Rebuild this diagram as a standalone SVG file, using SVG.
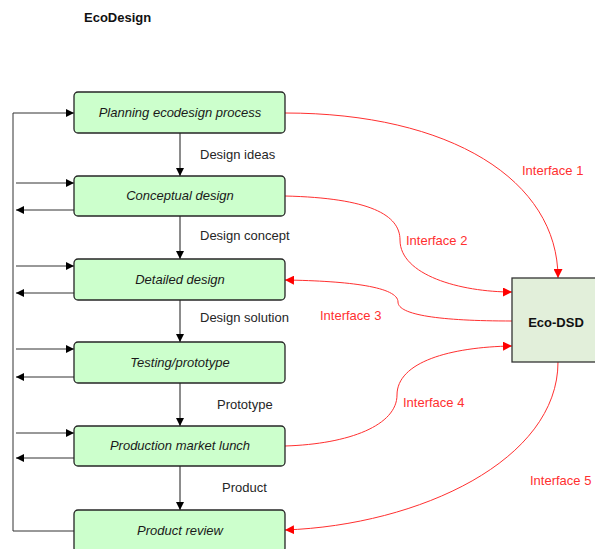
<svg xmlns="http://www.w3.org/2000/svg" width="595" height="549" viewBox="0 0 595 549">
  <style>
    .step { fill: #ccffcc; stroke: #262626; stroke-width: 1.3; }
    .steptxt { font-family: "Liberation Sans", Arial, sans-serif; font-style: italic; font-size: 13px; fill: #1a1a1a; text-anchor: middle; }
    .lbl { font-family: "Liberation Sans", Arial, sans-serif; font-size: 13px; fill: #262626; }
    .red { font-family: "Liberation Sans", Arial, sans-serif; font-size: 13px; fill: #ff3030; }
    .flow { fill: none; stroke: #1a1a1a; stroke-width: 1; }
    .loop { fill: none; stroke: #333333; stroke-width: 1; }
    .iface { fill: none; stroke: #ff3030; stroke-width: 1; }
  </style>
  <defs>
    <marker id="ah" viewBox="0 0 10 10" refX="10" refY="5" markerWidth="8" markerHeight="8" markerUnits="userSpaceOnUse" orient="auto">
      <path d="M0,0 L10,5 L0,10 Z" fill="#000"/>
    </marker>
    <marker id="ahr" viewBox="0 0 10 10" refX="10" refY="5" markerWidth="9" markerHeight="9" markerUnits="userSpaceOnUse" orient="auto">
      <path d="M0,0 L10,5 L0,10 Z" fill="#ff0000"/>
    </marker>
  </defs>

  <text x="84" y="22" font-family="'Liberation Sans', Arial, sans-serif" font-size="13" font-weight="bold" fill="#111">EcoDesign</text>

  <g id="connectors">
    <!-- feedback bus on the left -->
    <path class="loop" d="M74,531 H13 V113 H74" marker-end="url(#ah)"/>
    <line class="loop" x1="16" y1="183" x2="74" y2="183" marker-end="url(#ah)"/>
    <line class="loop" x1="74" y1="210" x2="16" y2="210" marker-end="url(#ah)"/>
    <line class="loop" x1="16" y1="266" x2="74" y2="266" marker-end="url(#ah)"/>
    <line class="loop" x1="74" y1="293" x2="16" y2="293" marker-end="url(#ah)"/>
    <line class="loop" x1="16" y1="349" x2="74" y2="349" marker-end="url(#ah)"/>
    <line class="loop" x1="74" y1="377" x2="16" y2="377" marker-end="url(#ah)"/>
    <line class="loop" x1="16" y1="433" x2="74" y2="433" marker-end="url(#ah)"/>
    <line class="loop" x1="74" y1="458" x2="16" y2="458" marker-end="url(#ah)"/>

    <!-- main flow -->
    <line class="flow" x1="180" y1="133" x2="180" y2="176" marker-end="url(#ah)"/>
    <line class="flow" x1="180" y1="216" x2="180" y2="259" marker-end="url(#ah)"/>
    <line class="flow" x1="180" y1="300" x2="180" y2="342" marker-end="url(#ah)"/>
    <line class="flow" x1="180" y1="383" x2="180" y2="426" marker-end="url(#ah)"/>
    <line class="flow" x1="180" y1="466" x2="180" y2="510" marker-end="url(#ah)"/>
    <text class="lbl" x="200" y="159">Design ideas</text>
    <text class="lbl" x="200" y="240">Design concept</text>
    <text class="lbl" x="200" y="322">Design solution</text>
    <text class="lbl" x="217" y="409">Prototype</text>
    <text class="lbl" x="222" y="492">Product</text>

    <!-- interfaces with Eco-DSD -->
    <path class="iface" d="M285,113 C450,113 558,180 558,278" marker-end="url(#ahr)"/>
    <path class="iface" d="M285,196 C370,198 400,215 400,240 C400,275 460,292 512,292" marker-end="url(#ahr)"/>
    <path class="iface" d="M512,321 C440,321 398,315 398,302 C398,287 350,281 285,280" marker-end="url(#ahr)"/>
    <path class="iface" d="M285,446 C350,444 397,425 397,395 C397,362 450,347 512,346" marker-end="url(#ahr)"/>
    <path class="iface" d="M558,362 C558,460 420,525 285,530" marker-end="url(#ahr)"/>
    <text class="red" x="522" y="175">Interface 1</text>
    <text class="red" x="406" y="245">Interface 2</text>
    <text class="red" x="320" y="320">Interface 3</text>
    <text class="red" x="403" y="407">Interface 4</text>
    <text class="red" x="530" y="485">Interface 5</text>
  </g>

  <g id="planning">
    <rect class="step" x="74" y="92" width="211" height="41" rx="4"/>
    <text class="steptxt" x="180" y="117">Planning ecodesign process</text>
  </g>
  <g id="conceptual">
    <rect class="step" x="74" y="176" width="211" height="40" rx="4"/>
    <text class="steptxt" x="180" y="200">Conceptual design</text>
  </g>
  <g id="detailed">
    <rect class="step" x="74" y="259" width="211" height="41" rx="4"/>
    <text class="steptxt" x="180" y="284">Detailed design</text>
  </g>
  <g id="testing">
    <rect class="step" x="74" y="342" width="211" height="41" rx="4"/>
    <text class="steptxt" x="180" y="367">Testing/prototype</text>
  </g>
  <g id="production">
    <rect class="step" x="74" y="426" width="211" height="40" rx="4"/>
    <text class="steptxt" x="180" y="450">Production market lunch</text>
  </g>
  <g id="review">
    <rect class="step" x="74" y="510" width="211" height="42" rx="4"/>
    <text class="steptxt" x="180" y="535">Product review</text>
  </g>
  <g id="eco-dsd">
    <rect x="512" y="278" width="90" height="84" fill="#e2efda" stroke="#333" stroke-width="1.3"/>
    <text x="556" y="327" font-family="'Liberation Sans', Arial, sans-serif" font-size="13" font-weight="bold" fill="#111" text-anchor="middle">Eco-DSD</text>
  </g>
</svg>
